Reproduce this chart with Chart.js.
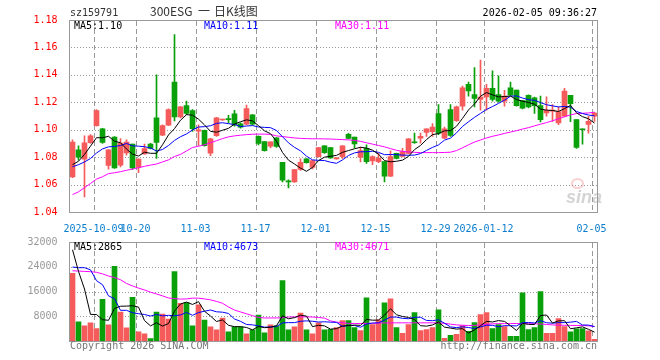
<!DOCTYPE html>
<html>
<head>
<meta charset="utf-8">
<script src="https://cdn.jsdelivr.net/npm/chart.js@4.4.1/dist/chart.umd.min.js"></script>
<style>
  body { margin: 0; background: #fff; font-family: "DejaVu Sans Mono", monospace; font-size: 10px; }
  canvas { position: absolute; left: 0; }
  .t { position: absolute; white-space: pre; line-height: 12px; }
  .title { color: #333; font-family: "Noto Sans CJK SC"; font-size: 12px; line-height: 14px; top: 4px; }
</style>
</head>
<body>
<canvas id="kline" width="660" height="232" style="top:0"></canvas>
<canvas id="vol" width="660" height="128" style="top:232px"></canvas>

<div class="t" style="left:70px;top:7px;color:#333">sz159791</div>
<div class="t title" style="left:150px">300ESG</div>
<div class="t title" style="left:198px">一</div>
<div class="t title" style="left:214px">日K线图</div>
<div class="t" style="right:63px;top:7px;color:#000">2026-02-05 09:36:27</div>

<div class="t" id="pma5" style="left:74px;top:20px;color:#000"></div>
<div class="t" id="pma10" style="left:204px;top:20px;color:#0000ff"></div>
<div class="t" id="pma30" style="left:335px;top:20px;color:#ff00ff"></div>

<div class="t" id="vma5" style="left:74px;top:241px;color:#000"></div>
<div class="t" id="vma10" style="left:204px;top:241px;color:#0000ff"></div>
<div class="t" id="vma30" style="left:335px;top:241px;color:#ff00ff"></div>

<div class="t" style="left:70px;top:340px;color:#777">Copyright 2026 SINA.COM</div>
<div class="t" style="right:63px;top:340px;color:#777">http://finance.sina.com.cn</div>

<div style="position:absolute;left:571px;top:178px;width:9px;height:7px;border:2px solid rgba(235,120,120,0.35);border-radius:50%"></div>
<div class="t" style="left:566px;top:188px;color:rgba(160,160,160,0.45);font-family:'Liberation Sans';font-size:18px;font-weight:bold;font-style:italic;line-height:18px">sina</div>

<script>
// trading days shown on the chart
const dates = [
  '2025-09-25','2025-09-26','2025-09-29','2025-09-30','2025-10-09','2025-10-10','2025-10-13','2025-10-14','2025-10-15','2025-10-16',
  '2025-10-17','2025-10-20','2025-10-21','2025-10-22','2025-10-23','2025-10-24','2025-10-27','2025-10-28','2025-10-29','2025-10-30',
  '2025-10-31','2025-11-03','2025-11-04','2025-11-05','2025-11-06','2025-11-07','2025-11-10','2025-11-11','2025-11-12','2025-11-13',
  '2025-11-14','2025-11-17','2025-11-18','2025-11-19','2025-11-20','2025-11-21','2025-11-24','2025-11-25','2025-11-26','2025-11-27',
  '2025-11-28','2025-12-01','2025-12-02','2025-12-03','2025-12-04','2025-12-05','2025-12-08','2025-12-09','2025-12-10','2025-12-11',
  '2025-12-12','2025-12-15','2025-12-16','2025-12-17','2025-12-18','2025-12-19','2025-12-22','2025-12-23','2025-12-24','2025-12-25',
  '2025-12-26','2025-12-29','2025-12-30','2025-12-31','2026-01-05','2026-01-06','2026-01-07','2026-01-08','2026-01-09','2026-01-12',
  '2026-01-13','2026-01-14','2026-01-15','2026-01-16','2026-01-19','2026-01-20','2026-01-21','2026-01-22','2026-01-23','2026-01-26',
  '2026-01-27','2026-01-28','2026-01-29','2026-01-30','2026-02-02','2026-02-03','2026-02-04','2026-02-05'
];

// dates that get a label and a dashed line
const tickDates = ['2025-10-09','2025-10-20','2025-11-03','2025-11-17','2025-12-01','2025-12-15','2025-12-29','2026-01-12','2026-02-05'];
const tickLabels = ['2025-10-09','10-20','11-03','11-17','12-01','12-15','12-29','2026-01-12','02-05'];

const open = [
  1.0655,1.0853,1.0785,1.0905,1.1030,1.1007,1.0740,1.0946,1.0741,1.0830,
  1.0895,1.0727,1.0824,1.0895,1.1086,1.0961,1.1034,1.1348,1.1093,1.1176,
  1.1140,1.0990,1.0995,1.0829,1.0956,1.1071,1.1075,1.1116,1.1043,1.1040,
  1.1109,1.0951,1.0914,1.0880,1.0940,1.0762,1.0622,1.0619,1.0711,1.0787,
  1.0725,1.0804,1.0882,1.0870,1.0787,1.0804,1.0966,1.0946,1.0799,1.0865,
  1.0772,1.0767,1.0767,1.0662,1.0828,1.0806,1.0828,1.0907,1.0939,1.0980,
  1.0985,1.1118,1.0939,1.1147,1.1066,1.1172,1.1331,1.1257,1.1220,1.1240,
  1.1301,1.1257,1.1208,1.1306,1.1289,1.1213,1.1250,1.1233,1.1176,1.1123,
  1.1135,1.1049,1.1098,1.1250,1.1073,1.1007,1.1039,1.1098
];
const close = [
  1.0909,1.0800,1.0904,1.0956,1.1140,1.0907,1.0853,1.0722,1.0902,1.0909,
  1.0722,1.0785,1.0863,1.0863,1.0907,1.1030,1.1147,1.1093,1.1167,1.1118,
  1.1007,1.1000,1.0883,1.0934,1.1086,1.1076,1.1073,1.1035,1.1019,1.1155,
  1.1040,1.0900,1.0848,1.0912,1.0878,1.0632,1.0620,1.0710,1.0762,1.0760,
  1.0775,1.0870,1.0833,1.0794,1.0794,1.0882,1.0937,1.0897,1.0848,1.0767,
  1.0804,1.0792,1.0662,1.0804,1.0790,1.0841,1.0934,1.0905,1.0951,1.1007,
  1.1020,1.0975,1.1007,1.0958,1.1167,1.1306,1.1282,1.1228,1.1238,1.1301,
  1.1220,1.1208,1.1245,1.1252,1.1176,1.1157,1.1167,1.1176,1.1074,1.1142,
  1.1140,1.1132,1.1282,1.1189,1.0870,1.1000,1.1061,1.1122
];
const high = [
  1.0926,1.0882,1.0956,1.0965,1.1147,1.1010,1.0855,1.0950,1.0936,1.0926,
  1.0895,1.0787,1.0895,1.0900,1.1400,1.1035,1.1152,1.1694,1.1170,1.1208,
  1.1147,1.1035,1.0998,1.0937,1.1090,1.1078,1.1105,1.1142,1.1050,1.1180,
  1.1110,1.0955,1.0914,1.0912,1.0942,1.0762,1.0635,1.0712,1.0787,1.0790,
  1.0777,1.0872,1.0885,1.0872,1.0796,1.0884,1.0973,1.0946,1.0873,1.0890,
  1.0809,1.0828,1.0767,1.0846,1.0830,1.0865,1.0936,1.0975,1.0975,1.1007,
  1.1044,1.1184,1.1020,1.1184,1.1172,1.1319,1.1348,1.1453,1.1507,1.1331,
  1.1429,1.1392,1.1287,1.1348,1.1289,1.1213,1.1255,1.1238,1.1245,1.1240,
  1.1184,1.1167,1.1301,1.1250,1.1073,1.1007,1.1098,1.1127
];
const low = [
  1.0650,1.0778,1.0510,1.0900,1.1025,1.0900,1.0712,1.0717,1.0729,1.0815,
  1.0710,1.0686,1.0819,1.0860,1.0790,1.0956,1.1030,1.1065,1.1086,1.1110,
  1.0988,1.0885,1.0880,1.0810,1.0951,1.1068,1.1050,1.1025,1.1012,1.1035,
  1.1034,1.0890,1.0843,1.0868,1.0870,1.0620,1.0576,1.0615,1.0704,1.0756,
  1.0715,1.0800,1.0828,1.0790,1.0785,1.0790,1.0932,1.0868,1.0765,1.0755,
  1.0745,1.0760,1.0620,1.0657,1.0787,1.0802,1.0826,1.0900,1.0902,1.0951,
  1.0951,1.0963,1.0934,1.0951,1.1061,1.1142,1.1245,1.1167,1.1142,1.1142,
  1.1208,1.1201,1.1172,1.1250,1.1172,1.1152,1.1159,1.1118,1.1056,1.1098,
  1.1061,1.1037,1.1093,1.1059,1.0863,1.0895,1.0975,1.1061
];

const ma5 = [
  1.0745,1.0770,1.0820,1.0880,1.0942,1.0941,1.0952,1.0916,1.0905,1.0859,
  1.0822,1.0808,1.0836,1.0828,1.0828,1.0890,1.0962,1.1008,1.1069,1.1110,
  1.1106,1.1077,1.1035,1.0988,1.0982,1.0996,1.1010,1.1041,1.1058,1.1072,
  1.1064,1.1030,1.0992,1.0971,1.0916,1.0834,1.0778,1.0750,1.0720,1.0697,
  1.0725,1.0775,1.0800,1.0806,1.0813,1.0835,1.0848,1.0861,1.0872,1.0866,
  1.0851,1.0822,1.0775,1.0766,1.0770,1.0778,1.0806,1.0855,1.0885,1.0928,
  1.0964,1.0972,1.0992,1.0993,1.1025,1.1083,1.1144,1.1188,1.1244,1.1271,
  1.1254,1.1239,1.1242,1.1245,1.1220,1.1208,1.1199,1.1186,1.1150,1.1143,
  1.1140,1.1133,1.1154,1.1177,1.1123,1.1095,1.1080,1.1048
];
const ma10 = [
  1.0730,1.0745,1.0765,1.0790,1.0830,1.0860,1.0875,1.0878,1.0885,1.0900,
  1.0882,1.0880,1.0876,1.0867,1.0844,1.0856,1.0885,1.0922,1.0949,1.0969,
  1.0998,1.1020,1.1022,1.1029,1.1046,1.1051,1.1044,1.1038,1.1023,1.1027,
  1.1030,1.1020,1.1017,1.1015,1.0994,1.0949,1.0904,1.0871,1.0846,1.0807,
  1.0780,1.0777,1.0775,1.0763,1.0755,1.0780,1.0812,1.0831,1.0839,1.0840,
  1.0843,1.0835,1.0818,1.0819,1.0818,1.0815,1.0814,1.0815,1.0826,1.0849,
  1.0871,1.0889,1.0924,1.0939,1.0977,1.1024,1.1058,1.1090,1.1119,1.1148,
  1.1169,1.1192,1.1215,1.1245,1.1246,1.1231,1.1219,1.1214,1.1198,1.1182,
  1.1174,1.1166,1.1170,1.1164,1.1133,1.1118,1.1107,1.1101
];
const ma30 = [
  1.0527,1.0547,1.0578,1.0608,1.0640,1.0657,1.0680,1.0686,1.0694,1.0704,
  1.0713,1.0723,1.0733,1.0742,1.0750,1.0765,1.0780,1.0805,1.0820,1.0845,
  1.0870,1.0880,1.0890,1.0905,1.0920,1.0935,1.0948,1.0955,1.0960,1.0964,
  1.0967,1.0968,1.0968,1.0966,1.0955,1.0950,1.0945,1.0940,1.0937,1.0935,
  1.0934,1.0934,1.0933,1.0932,1.0930,1.0928,1.0926,1.0922,1.0915,1.0905,
  1.0895,1.0885,1.0875,1.0862,1.0850,1.0842,1.0838,1.0835,1.0833,1.0833,
  1.0833,1.0833,1.0834,1.0836,1.0848,1.0868,1.0890,1.0910,1.0925,1.0940,
  1.0952,1.0962,1.0973,1.0983,1.0993,1.1005,1.1015,1.1028,1.1040,1.1052,
  1.1065,1.1080,1.1095,1.1108,1.1118,1.1120,1.1122,1.1128
];

// volume (lots)
const volume = [
  21880,6160,4885,5840,4035,13490,5200,24110,9345,4250,
  14125,2975,2335,745,9345,8710,7115,22410,12210,12425,
  4885,11680,6800,4565,3610,7435,2975,4565,4565,2335,
  3610,8390,2655,5200,4885,19540,3610,4565,9025,3610,
  2335,5840,3610,3800,4360,6600,6600,4360,3400,13940,
  5320,6810,12340,13620,4360,2450,5320,9150,3400,3720,
  4360,10110,850,1810,2130,5000,3090,5960,8510,9150,
  4040,5320,4680,1490,1490,15530,3720,4360,16000,2450,
  2450,7240,4680,3000,3900,4000,3300,500
];
const volMa5 = [
  29500,22500,16800,8600,8560,6880,6690,10535,11236,11279,
  11406,10961,6606,4886,5905,4822,5650,9665,11958,12574,
  11809,12722,9600,8071,6308,6818,5077,4630,4630,4375,
  3610,4693,4311,4438,4948,8134,7178,7560,8325,8070,
  4629,5075,4884,3839,3989,4842,4994,5144,5064,6980,
  6724,6766,8362,10406,8490,7916,7618,6980,4936,4808,
  5190,6148,4488,4170,3852,3980,2576,3598,4938,6342,
  6150,6596,6340,4936,3404,5702,5382,5318,8220,8412,
  5796,6500,6564,3964,4254,4564,3776,2865
];
const volMa10 = [
  23900,23700,23700,23000,19500,18190,14595,13668,9918,9920,
  9143,8826,8570,8061,8592,8114,8306,8136,8422,9240,
  8316,9186,9633,10015,9441,9314,8900,7115,6351,5342,
  5214,4885,4471,4534,4662,5872,5936,5936,6382,6509,
  6382,6127,6222,6082,6030,4736,5035,5014,4452,5485,
  5783,5880,6753,7735,7735,7320,7192,7671,7671,6649,
  6553,6883,5734,4553,4330,4585,4362,4043,4554,5097,
  5065,4586,4969,4937,4873,5926,5989,5829,6578,5908,
  5749,5941,5941,6092,6333,5180,5138,4673
];
const volMa30 = [
  22700,22600,22500,22400,22200,21700,21000,20500,19800,18600,
  17800,17100,16500,15800,15200,14600,13900,13700,13550,13600,
  13850,13850,13600,13300,12800,12200,11000,10000,9400,8800,
  8200,7600,7450,7450,7450,7500,7750,7800,7800,7800,
  7750,7600,7400,6500,6100,5900,5700,5650,5650,5700,
  5750,5800,5850,5850,5870,5870,5870,5870,5870,5870,
  5870,5850,5700,5450,5200,5100,5000,5050,5200,5400,
  5550,5600,5620,5640,5650,5600,5580,5560,5500,5350,
  5200,5120,5080,5050,5020,5000,4900,4671
];

const UP = '#f55b5b';
const DOWN = '#0aa00a';
const GRID = '#999';
const FRAME = '#999';
const monoFont = { family: 'DejaVu Sans Mono', size: 10 };

const barColors = close.map((c, i) => c >= open[i] ? UP : DOWN);
const bodies = open.map((o, i) => [o, close[i]]);
const wicks = low.map((l, i) => [l, high[i]]);
const tickIdx = tickDates.map(d => dates.indexOf(d));

function maLine(data, color) {
  return {
    type: 'line', data: data, borderColor: color, borderWidth: 1,
    pointRadius: 0, tension: 0, order: 0
  };
}

// dotted value lines and dashed date lines, placed from the chart's own scales,
// drawn as small rects so no line-dash state is involved
const sinaGrid = {
  id: 'sinaGrid',
  beforeDatasetsDraw(chart) {
    const ctx = chart.ctx;
    const a = chart.chartArea;
    const xs = chart.scales.x;
    const ys = chart.scales.y;
    const slot = (a.right - a.left) / dates.length;
    const left = Math.round(a.left), right = Math.round(a.right);
    const top = Math.round(a.top), bottom = Math.round(a.bottom);
    ctx.save();
    ctx.fillStyle = GRID;
    ys.ticks.forEach(t => {
      const py = Math.round(ys.getPixelForValue(t.value));
      if (py <= top || py >= bottom) return;
      for (let x = left + 1; x < right; x += 3) ctx.fillRect(x, py, 1, 1);
    });
    tickIdx.forEach(i => {
      const px = Math.round(xs.getPixelForValue(i) - slot / 2);
      for (let y = top + 1; y < bottom; y += 8) ctx.fillRect(px, y, 1, Math.min(5, bottom - y));
    });
    ctx.restore();
  }
};

// grey box round the plot area
const frame = {
  id: 'frame',
  afterDraw(chart) {
    const a = chart.chartArea;
    const ctx = chart.ctx;
    ctx.save();
    ctx.strokeStyle = FRAME;
    ctx.lineWidth = 1;
    ctx.strokeRect(a.left, Math.round(a.top) + 0.5, a.right - a.left, Math.round(a.bottom) - Math.round(a.top));
    ctx.restore();
  }
};

Chart.defaults.font.family = 'DejaVu Sans Mono';

new Chart(document.getElementById('kline'), {
  type: 'bar',
  data: {
    labels: dates,
    datasets: [
      maLine(ma5, '#000000'),
      maLine(ma10, '#0000ff'),
      maLine(ma30, '#ff00ff'),
      { data: bodies, backgroundColor: barColors, barThickness: 5, grouped: false, minBarLength: 1, order: 1 },
      { data: wicks, backgroundColor: barColors, barThickness: 1, grouped: false, order: 2 }
    ]
  },
  options: {
    responsive: false,
    animation: false,
    events: [],
    layout: { padding: { top: 20, right: 62.5, left: 0, bottom: 0 } },
    plugins: { legend: { display: false }, tooltip: { enabled: false } },
    scales: {
      x: {
        offset: true,
        grid: { display: false },
        border: { color: FRAME },
        ticks: {
          autoSkip: false, maxRotation: 0, minRotation: 0,
          color: '#0b7dcd', font: monoFont, padding: 3, labelOffset: -3,
          callback: (v, i) => {
            const k = tickIdx.indexOf(i);
            return k >= 0 ? tickLabels[k] : '';
          }
        },
        afterFit: s => { s.height = 20; }
      },
      y: {
        min: 1.04, max: 1.18,
        grid: { display: false },
        border: { color: FRAME },
        ticks: { stepSize: 0.02, color: '#ff0000', font: monoFont, padding: 4, callback: v => Number(v).toFixed(2) },
        afterFit: s => { s.width = 69.5; }
      }
    }
  },
  plugins: [sinaGrid, frame]
});

new Chart(document.getElementById('vol'), {
  type: 'bar',
  data: {
    labels: dates,
    datasets: [
      maLine(volMa5, '#000000'),
      maLine(volMa10, '#0000ff'),
      maLine(volMa30, '#ff00ff'),
      { data: volume, backgroundColor: barColors, barThickness: 5, order: 1 }
    ]
  },
  options: {
    responsive: false,
    animation: false,
    events: [],
    layout: { padding: { top: 8, right: 62.5, left: 0, bottom: 0 } },
    plugins: { legend: { display: false }, tooltip: { enabled: false } },
    scales: {
      x: {
        offset: true,
        grid: { display: false },
        border: { color: FRAME },
        ticks: { display: false },
        afterFit: s => { s.height = 19; }
      },
      y: {
        min: 0, max: 32000,
        grid: { display: false },
        border: { color: FRAME },
        ticks: { stepSize: 8000, color: '#999', font: monoFont, padding: 4, callback: v => v === 0 ? '' : String(v) },
        afterFit: s => { s.width = 69.5; }
      }
    }
  },
  plugins: [sinaGrid, frame]
});

// legend texts from the last values
const last = a => a[a.length - 1];
document.getElementById('pma5').textContent = 'MA5:' + last(ma5).toFixed(2);
document.getElementById('pma10').textContent = 'MA10:' + last(ma10).toFixed(2);
document.getElementById('pma30').textContent = 'MA30:' + last(ma30).toFixed(2);
document.getElementById('vma5').textContent = 'MA5:' + last(volMa5);
document.getElementById('vma10').textContent = 'MA10:' + last(volMa10);
document.getElementById('vma30').textContent = 'MA30:' + last(volMa30);
</script>
</body>
</html>
